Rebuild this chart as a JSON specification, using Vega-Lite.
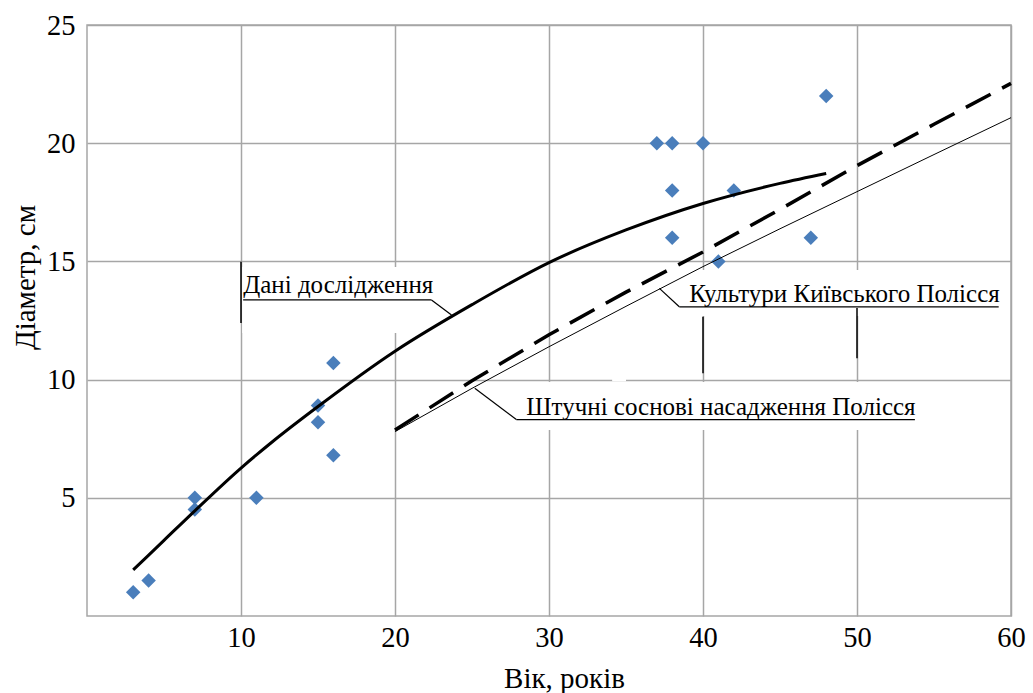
{
  "$schema": "https://vega.github.io/schema/vega-lite/v6.json",
  "width": 924,
  "height": 591,
  "autosize": {"type": "none"},
  "padding": {"left": 87, "top": 25, "right": 22, "bottom": 77},
  "background": "white",
  "config": {
    "view": {"stroke": "#a6a6a6", "strokeWidth": 1.5},
    "font": "Liberation Serif"
  },
  "datasets": {
    "points": [
      {"x": 3, "y": 1.0}, {"x": 4, "y": 1.5}, {"x": 7, "y": 5.0}, {"x": 7, "y": 4.5},
      {"x": 11, "y": 5.0}, {"x": 15, "y": 8.9}, {"x": 15, "y": 8.2}, {"x": 16, "y": 10.7},
      {"x": 16, "y": 6.8}, {"x": 37, "y": 20}, {"x": 38, "y": 20}, {"x": 40, "y": 20},
      {"x": 38, "y": 18}, {"x": 38, "y": 16}, {"x": 42, "y": 18}, {"x": 41, "y": 15},
      {"x": 47, "y": 16}, {"x": 48, "y": 22}
    ],
    "study": [
      {"x": 3, "y": 1.95}, {"x": 5, "y": 3.2}, {"x": 7, "y": 4.45}, {"x": 10, "y": 6.26},
      {"x": 12, "y": 7.35}, {"x": 15, "y": 8.86}, {"x": 20, "y": 11.2}, {"x": 25, "y": 13.17},
      {"x": 30, "y": 14.95}, {"x": 35, "y": 16.33}, {"x": 40, "y": 17.45}, {"x": 45, "y": 18.3},
      {"x": 48, "y": 18.72}
    ],
    "artificial": [
      {"x": 20, "y": 7.87}, {"x": 25, "y": 9.95}, {"x": 30, "y": 11.9}, {"x": 35, "y": 13.7},
      {"x": 40, "y": 15.4}, {"x": 45, "y": 17.2}, {"x": 50, "y": 19.05}, {"x": 55, "y": 20.8},
      {"x": 60, "y": 22.53}
    ],
    "kyiv": [
      {"x": 20, "y": 7.8}, {"x": 25, "y": 9.63}, {"x": 30, "y": 11.39}, {"x": 35, "y": 13.1},
      {"x": 40, "y": 14.78}, {"x": 45, "y": 16.38}, {"x": 50, "y": 17.95}, {"x": 55, "y": 19.52},
      {"x": 60, "y": 21.08}
    ],
    "boxes": [
      {"x": 10.08, "x2": 22.39, "y": 11.97, "y2": 14.76},
      {"x": 38.46, "x2": 59.2, "y": 12.69, "y2": 14.64},
      {"x": 27.9, "x2": 53.76, "y": 7.87, "y2": 9.9},
      {"x": 34.1, "x2": 35.0, "y": 9.93, "y2": 10.07}
    ],
    "gridmarks": [
      {"x": 10, "x2": 10, "y": 12.39, "y2": 14.99},
      {"x": 40, "x2": 40, "y": 10.27, "y2": 12.66},
      {"x": 50, "x2": 50, "y": 10.9, "y2": 13.03}
    ],
    "callouts": [
      {"x": 10.14, "x2": 22.37, "y": 13.37, "y2": 13.37},
      {"x": 22.37, "x2": 23.67, "y": 13.37, "y2": 12.73},
      {"x": 38.46, "x2": 59.2, "y": 13.08, "y2": 13.08},
      {"x": 38.46, "x2": 37.17, "y": 13.08, "y2": 13.86},
      {"x": 27.88, "x2": 53.76, "y": 8.31, "y2": 8.31},
      {"x": 27.88, "x2": 25.18, "y": 8.31, "y2": 9.63}
    ],
    "labels": [
      {"x": 10.14, "y": 13.65, "text": "Дані дослідження"},
      {"x": 39.1, "y": 13.3, "text": "Культури Київського Полісся"},
      {"x": 28.53, "y": 8.5, "text": "Штучні соснові насадження Полісся"}
    ]
  },
  "encoding": {
    "x": {
      "field": "x",
      "type": "quantitative",
      "scale": {"domain": [0, 60], "nice": false, "zero": false},
      "axis": {
        "values": [10, 20, 30, 40, 50, 60],
        "grid": true,
        "gridColor": "#a6a6a6",
        "gridWidth": 1.5,
        "domain": false,
        "ticks": false,
        "labelFont": "Liberation Serif",
        "labelFontSize": 28.5,
        "labelColor": "#000000",
        "labelPadding": 7,
        "labelFlush": false,
        "labelOverlap": false,
        "title": "Вік, років",
        "titleFont": "Liberation Serif",
        "titleFontSize": 29,
        "titleFontWeight": "normal",
        "titleColor": "#000000",
        "titleX": 477,
        "titleY": 71,
        "titleAlign": "center",
        "titleBaseline": "alphabetic"
      }
    },
    "y": {
      "field": "y",
      "type": "quantitative",
      "scale": {"domain": [0, 25], "nice": false, "zero": false},
      "axis": {
        "values": [5, 10, 15, 20, 25],
        "grid": true,
        "gridColor": "#a6a6a6",
        "gridWidth": 1.5,
        "domain": false,
        "ticks": false,
        "labelFont": "Liberation Serif",
        "labelFontSize": 28.5,
        "labelColor": "#000000",
        "labelPadding": 12,
        "labelFlush": false,
        "labelOverlap": false,
        "title": "Діаметр, см",
        "titleFont": "Liberation Serif",
        "titleFontSize": 29,
        "titleFontWeight": "normal",
        "titleColor": "#000000",
        "titleAngle": 270,
        "titleX": -62,
        "titleY": 252,
        "titleAlign": "center",
        "titleBaseline": "middle"
      }
    }
  },
  "layer": [
    {
      "data": {"name": "boxes"},
      "mark": {"type": "rect", "color": "white", "opacity": 1},
      "encoding": {"x2": {"field": "x2"}, "y2": {"field": "y2"}}
    },
    {
      "data": {"name": "gridmarks"},
      "mark": {"type": "rule", "color": "#000000", "strokeWidth": 1.5},
      "encoding": {"x2": {"field": "x2"}, "y2": {"field": "y2"}}
    },
    {
      "data": {"name": "points"},
      "mark": {"type": "point", "shape": "diamond", "filled": true, "color": "#4a7ebb", "size": 210, "opacity": 1}
    },
    {
      "data": {"name": "kyiv"},
      "mark": {"type": "line", "color": "#000000", "strokeWidth": 1}
    },
    {
      "data": {"name": "artificial"},
      "mark": {"type": "line", "color": "#000000", "strokeWidth": 3.5, "strokeDash": [28, 13]}
    },
    {
      "data": {"name": "study"},
      "mark": {"type": "line", "color": "#000000", "strokeWidth": 3, "interpolate": "monotone"}
    },
    {
      "data": {"name": "callouts"},
      "mark": {"type": "rule", "color": "#000000", "strokeWidth": 1.2},
      "encoding": {"x2": {"field": "x2"}, "y2": {"field": "y2"}}
    },
    {
      "data": {"name": "labels"},
      "mark": {"type": "text", "align": "left", "baseline": "alphabetic", "font": "Liberation Serif", "fontSize": 25, "color": "#000000"},
      "encoding": {"text": {"field": "text"}}
    }
  ]
}
